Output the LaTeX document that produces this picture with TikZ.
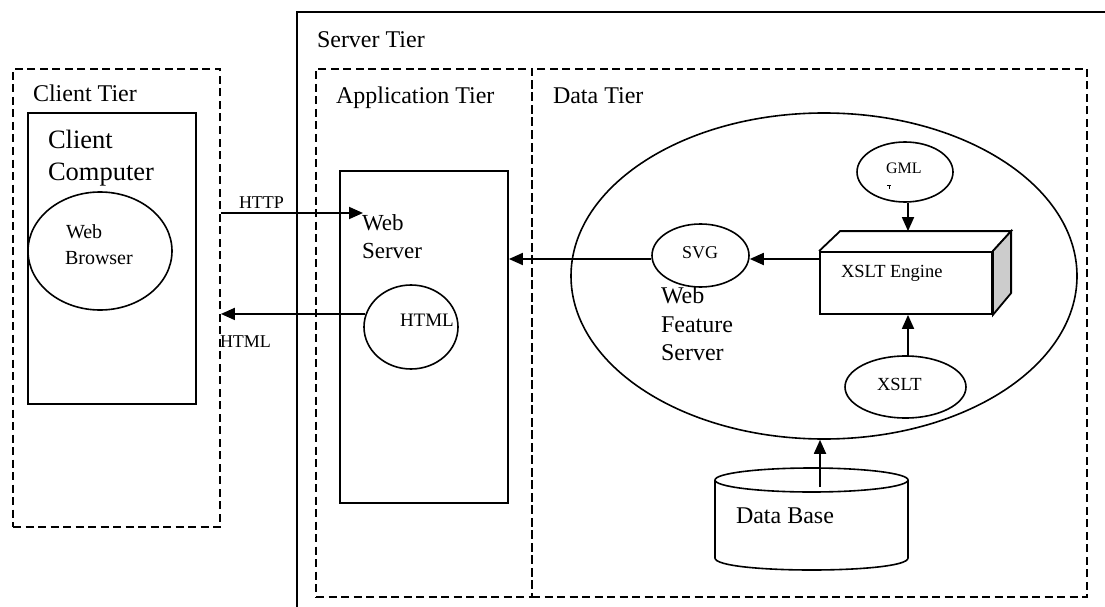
\documentclass[tikz,border=0pt]{standalone}
\usepackage{fontspec}
\setmainfont{Liberation Serif}
\usetikzlibrary{arrows.meta,shapes.geometric}
\tikzset{
  solidbox/.style={draw, line width=1.8pt, inner sep=0pt, rectangle},
  tierbox/.style={draw, line width=1.8pt, inner sep=0pt, rectangle, dash pattern=on 8pt off 4.5pt},
  oval/.style={draw, ellipse, line width=1.6pt, inner sep=0pt},
  arr/.style={-{Triangle[length=14pt,width=12pt]}, line width=1.8pt},
  lbl/.style={anchor=base west, inner sep=0pt, outer sep=0pt},
  fs/.style={font=\fontsize{#1}{#1}\selectfont}
}
\begin{document}
\begin{tikzpicture}[x=1pt,y=-1pt]
\useasboundingbox (0,0) rectangle (1105,607);
\clip (0,0) rectangle (1105,607);

% server tier frame (runs past the right and bottom edges)
\draw[line width=1.8pt] (297,620) -- (297,12) -- (1120,12);

% tier boxes
\node[tierbox, minimum width=207pt, minimum height=458pt] (clienttier) at (116.5,298) {};
\node[tierbox, minimum width=216pt, minimum height=528pt] (apptier) at (424,333) {};
\node[tierbox, minimum width=555pt, minimum height=528pt] (datatier) at (809.5,333) {};

% client computer and web server
\node[solidbox, minimum width=168pt, minimum height=291pt] (cc) at (112,258.5) {};
\node[solidbox, minimum width=168pt, minimum height=332pt] (ws) at (424,337) {};

% ovals
\node[oval, minimum width=144pt, minimum height=118pt] (wb) at (100,251) {};
\node[oval, minimum width=94pt, minimum height=84pt] (html) at (411,327) {};
\node[oval, minimum width=506pt, minimum height=326pt] (wfs) at (824,276) {};
\node[oval, minimum width=97pt, minimum height=63pt] (svg) at (700.5,255.5) {};
\node[oval, minimum width=96pt, minimum height=60pt] (gml) at (905,172) {};
\node[oval, minimum width=121pt, minimum height=62pt] (xslt) at (905.5,387) {};

% XSLT engine block: front face, top face, shaded side face
\node[solidbox, minimum width=172pt, minimum height=62pt] (xe) at (906,283) {};
\draw[line width=1.8pt, line join=miter] (xe.north west) -- ++(21,-20) coordinate (xebl) -- ++(171,0) coordinate (xebr) -- (xe.north east);
\draw[line width=1.8pt, fill=black!20, line join=miter] (xe.north east) -- (xebr) -- ++(0,62) -- (xe.south east) -- cycle;

% database cylinder
\coordinate (dbc) at (811.5,480);
\draw[line width=1.6pt, fill=white] (715,480) -- (715,558) .. controls (715,574) and (908,574) .. (908,558) -- (908,480);
\draw[line width=1.6pt] (dbc) ellipse [x radius=96.5, y radius=12];

% labels
\node[lbl, fs=24] (tclient) at (33,102) {Client Tier};
\node[lbl, fs=26.5] (tcc1) at (48,148) {Client};
\node[lbl, fs=26.5] (tcc2) at (48,180) {Computer};
\node[lbl, fs=24] (tserver) at (317,48) {Server Tier};
\node[lbl, fs=24] (tapp) at (336,104) {Application Tier};
\node[lbl, fs=24] (tdata) at (553,104) {Data Tier};
\node[lbl, fs=20] (twb1) at (66,238) {Web};
\node[lbl, fs=20] (twb2) at (65,264) {Browser};
\node[lbl, fs=18] (thttp) at (239,208) {HTTP};
\node[lbl, fs=23] (tws1) at (362,230) {Web};
\node[lbl, fs=23] (tws2) at (362,258) {Server};
\node[lbl, fs=19] (thtml) at (400,326) {HTML};
\node[lbl, fs=18] (thtmlret) at (220,347) {HTML};
\node[lbl, fs=18] (tsvg) at (682,258) {SVG};
\node[lbl, fs=16] (tgml) at (886,173) {GML};
\node[lbl, fs=18.5] (txe) at (841,277) {XSLT Engine};
\node[lbl, fs=18.5] (txslt) at (877,390) {XSLT};
\node[lbl, fs=24] (twfs1) at (661,303) {Web};
\node[lbl, fs=24] (twfs2) at (661,332) {Feature};
\node[lbl, fs=24] (twfs3) at (661,360) {Server};
\node[lbl, fs=24] (tdb) at (736,523) {Data Base};

% small stray mark under GML
\draw[line width=1pt] (887,185) -- (891,185) (889,185) -- (889,189);

% connectors
\coordinate (httprow) at (0,213);
\coordinate (flow) at (0,259);
\coordinate (col) at (908,0);
\coordinate (dbtop) at (820,487);

\draw[arr] (clienttier.east |- httprow) -- (363,213) coordinate (httpend);
\draw[arr] (html.164) -- (html.164 -| clienttier.east);
\draw[arr] (svg.west |- flow) -- (ws.east |- flow);
\draw[arr] (xe.west |- flow) -- (svg.east |- flow);
\draw[arr] (col |- gml.south) -- (col |- xebl);
\draw[arr] (col |- xslt.north) -- (col |- xe.south);
\draw[arr] (dbtop) -- (dbtop |- wfs.south);
\end{tikzpicture}
\end{document}
